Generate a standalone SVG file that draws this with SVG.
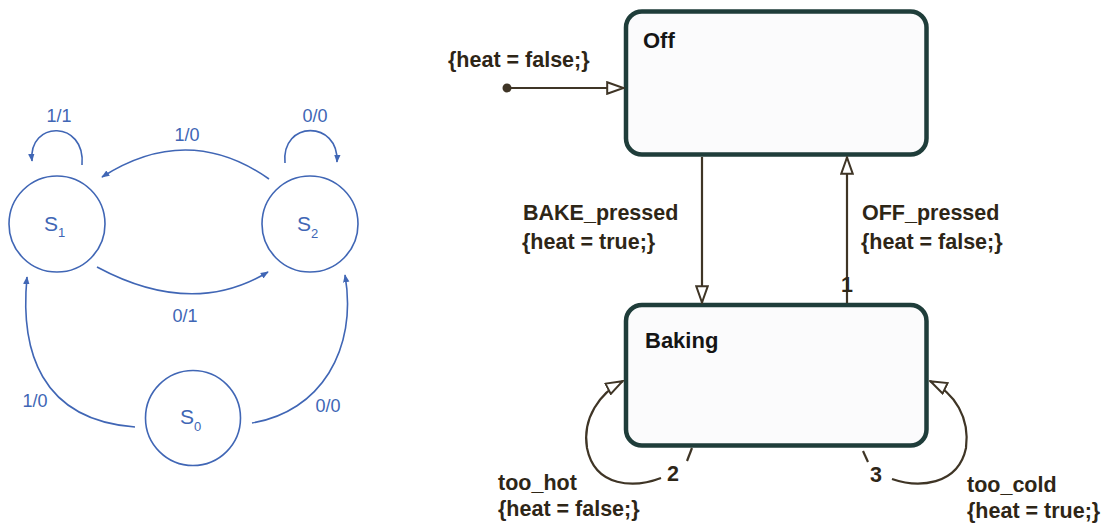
<svg xmlns="http://www.w3.org/2000/svg" width="1111" height="525" viewBox="0 0 1111 525">
  <style>
    .fsm-state { fill: none; stroke: #4066b5; stroke-width: 1.6; }
    .fsm-edge { fill: none; stroke: #4066b5; stroke-width: 1.6; marker-end: url(#blueHead); }
    .fsm-text { font-family: "Liberation Sans", Arial, sans-serif; fill: #4066b5; }
    .fsm-label { font-size: 18px; text-anchor: middle; }
    .fsm-name { font-size: 21px; }
    .fsm-sub { font-size: 13px; }
    .chart-state { fill: #fbfbfc; stroke: #1f3d3a; stroke-width: 4.5; }
    .chart-title { font-family: "Liberation Sans", Arial, sans-serif; font-size: 22px; font-weight: bold; fill: #151515; }
    .chart-edge { fill: none; stroke: #3f3526; stroke-width: 2.2; }
    .chart-edge.arrow { marker-end: url(#hollowHead); }
    .chart-text { font-family: "Liberation Sans", Arial, sans-serif; font-size: 21.5px; font-weight: bold; fill: #2e2617; }
  </style>
  <defs>
    <marker id="blueHead" viewBox="0 0 10 8" refX="9" refY="4" markerWidth="8" markerHeight="7" markerUnits="userSpaceOnUse" orient="auto">
      <path d="M0,0 L10,4 L0,8 Z" fill="#4066b5"/>
    </marker>
    <marker id="hollowHead" viewBox="0 0 19 14" refX="18" refY="7" markerWidth="19" markerHeight="14" markerUnits="userSpaceOnUse" orient="auto">
      <path d="M1.2,1.2 L17.5,7 L1.2,12.8 Z" fill="#ffffff" stroke="#3f3526" stroke-width="2"/>
    </marker>
  </defs>

  <rect width="1111" height="525" fill="#ffffff"/>

  <!-- Mealy machine: states -->
  <g id="S1">
    <circle class="fsm-state" cx="57" cy="224" r="48"/>
    <text class="fsm-text fsm-name" x="44" y="231">S<tspan class="fsm-sub" dy="6">1</tspan></text>
  </g>
  <g id="S2">
    <circle class="fsm-state" cx="310" cy="224" r="48"/>
    <text class="fsm-text fsm-name" x="297" y="231">S<tspan class="fsm-sub" dy="7">2</tspan></text>
  </g>
  <g id="S0">
    <circle class="fsm-state" cx="193" cy="418" r="47.5"/>
    <text class="fsm-text fsm-name" x="180" y="424">S<tspan class="fsm-sub" dy="7">0</tspan></text>
  </g>

  <!-- Stateflow chart: states -->
  <g id="Off">
    <rect class="chart-state" x="626" y="11.5" width="300.5" height="143" rx="16"/>
    <text class="chart-title" x="643" y="48">Off</text>
  </g>
  <g id="Baking">
    <rect class="chart-state" x="626" y="305" width="300.5" height="140.5" rx="16"/>
    <text class="chart-title" x="645" y="348">Baking</text>
  </g>

  <g id="connectors">
    <!-- Mealy machine transitions -->
    <path class="fsm-edge" d="M 82 165 C 86 120, 28 120, 32 161"/>
    <text class="fsm-text fsm-label" x="59" y="122">1/1</text>
    <path class="fsm-edge" d="M 285 163 C 281 120, 339 120, 337 162"/>
    <text class="fsm-text fsm-label" x="315" y="122">0/0</text>
    <path class="fsm-edge" d="M 269 179 Q 188 122, 102 177"/>
    <text class="fsm-text fsm-label" x="187" y="141">1/0</text>
    <path class="fsm-edge" d="M 97 267 Q 192 318, 268 272"/>
    <text class="fsm-text fsm-label" x="185" y="322">0/1</text>
    <path class="fsm-edge" d="M 135 427 C 40 420, 20 350, 27 277"/>
    <text class="fsm-text fsm-label" x="35" y="407">1/0</text>
    <path class="fsm-edge" d="M 252 423 C 320 412, 358 350, 345 275"/>
    <text class="fsm-text fsm-label" x="328" y="412">0/0</text>

    <!-- Default transition into Off -->
    <circle cx="507" cy="88" r="4.5" fill="#3f3526"/>
    <path class="chart-edge arrow" d="M 510 88 L 624 88"/>
    <text class="chart-text" x="448" y="67">{heat = false;}</text>

    <!-- Off -> Baking -->
    <path class="chart-edge arrow" d="M 702 157 L 702 303"/>
    <text class="chart-text" x="523" y="220">BAKE_pressed</text>
    <text class="chart-text" x="522" y="249">{heat = true;}</text>

    <!-- Baking -> Off -->
    <path class="chart-edge arrow" d="M 847 303 L 847 157"/>
    <text class="chart-text" x="847" y="292" text-anchor="middle">1</text>
    <text class="chart-text" x="862" y="220">OFF_pressed</text>
    <text class="chart-text" x="861" y="249">{heat = false;}</text>

    <!-- Baking self-loop: too_hot -->
    <path class="chart-edge" d="M 692 448 L 687 461"/>
    <text class="chart-text" x="667" y="481">2</text>
    <path class="chart-edge arrow" d="M 661 478 C 635 488, 595 488, 587 448 C 582 418, 600 393, 623 381"/>
    <text class="chart-text" x="498" y="490">too_hot</text>
    <text class="chart-text" x="498" y="516">{heat = false;}</text>

    <!-- Baking self-loop: too_cold -->
    <path class="chart-edge" d="M 863 451 L 868 462"/>
    <text class="chart-text" x="870" y="482">3</text>
    <path class="chart-edge arrow" d="M 892 479 C 918 488, 958 486, 966 448 C 970 418, 955 393, 930 381"/>
    <text class="chart-text" x="967" y="492">too_cold</text>
    <text class="chart-text" x="967" y="518">{heat = true;}</text>
  </g>
</svg>
